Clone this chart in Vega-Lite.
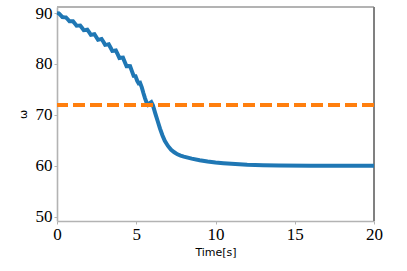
{
  "$schema": "https://vega.github.io/schema/vega-lite/v6.json",
  "width": 317,
  "height": 214,
  "autosize": {"type": "none"},
  "padding": {"left": 57, "top": 7, "right": 33, "bottom": 50},
  "background": "white",
  "config": {
    "view": {"stroke": null},
    "axis": {
      "grid": false,
      "domainColor": "#b3b3b3",
      "domainWidth": 1.6,
      "tickColor": "#b3b3b3",
      "tickSize": 3,
      "tickWidth": 1,
      "labelFont": "Liberation Serif",
      "labelFontSize": 17,
      "labelColor": "#000000",
      "labelFlush": false,
      "titleFont": "DejaVu Sans",
      "titleFontWeight": "normal",
      "titleFontSize": 11,
      "titleColor": "#000000"
    }
  },
  "data": {
    "values": [
      {"t": 0, "w": 90.0},
      {"t": 0.1125, "w": 89.95},
      {"t": 0.225, "w": 89.6},
      {"t": 0.3375, "w": 89.23},
      {"t": 0.45, "w": 89.19},
      {"t": 0.5625, "w": 89.17},
      {"t": 0.675, "w": 88.79},
      {"t": 0.7875, "w": 88.39},
      {"t": 0.9, "w": 88.38},
      {"t": 1.0125, "w": 88.38},
      {"t": 1.125, "w": 87.96},
      {"t": 1.2375, "w": 87.53},
      {"t": 1.35, "w": 87.54},
      {"t": 1.4625, "w": 87.56},
      {"t": 1.575, "w": 87.11},
      {"t": 1.6875, "w": 86.64},
      {"t": 1.8, "w": 86.68},
      {"t": 1.9125, "w": 86.73},
      {"t": 2.025, "w": 86.25},
      {"t": 2.1375, "w": 85.73},
      {"t": 2.25, "w": 85.78},
      {"t": 2.3625, "w": 85.84},
      {"t": 2.475, "w": 85.3},
      {"t": 2.5875, "w": 84.76},
      {"t": 2.7, "w": 84.83},
      {"t": 2.8125, "w": 84.92},
      {"t": 2.925, "w": 84.36},
      {"t": 3.0375, "w": 83.76},
      {"t": 3.15, "w": 83.81},
      {"t": 3.2625, "w": 83.88},
      {"t": 3.375, "w": 83.23},
      {"t": 3.4875, "w": 82.56},
      {"t": 3.6, "w": 82.6},
      {"t": 3.7125, "w": 82.65},
      {"t": 3.825, "w": 81.93},
      {"t": 3.9375, "w": 81.18},
      {"t": 4.05, "w": 81.22},
      {"t": 4.1625, "w": 81.25},
      {"t": 4.275, "w": 80.41},
      {"t": 4.3875, "w": 79.57},
      {"t": 4.5, "w": 79.6},
      {"t": 4.6125, "w": 79.57},
      {"t": 4.725, "w": 78.61},
      {"t": 4.8375, "w": 77.66},
      {"t": 4.95, "w": 77.62},
      {"t": 5.06, "w": 76.7},
      {"t": 5.15, "w": 76.2},
      {"t": 5.24, "w": 76.3},
      {"t": 5.35, "w": 75.4},
      {"t": 5.45, "w": 74.3},
      {"t": 5.55, "w": 73.3},
      {"t": 5.65, "w": 72.4},
      {"t": 5.74, "w": 72.0},
      {"t": 5.85, "w": 72.3},
      {"t": 5.95, "w": 72.5},
      {"t": 6.05, "w": 71.9},
      {"t": 6.2, "w": 70.3},
      {"t": 6.35, "w": 68.8},
      {"t": 6.5, "w": 67.3},
      {"t": 6.65, "w": 66.0},
      {"t": 6.8, "w": 64.9},
      {"t": 7.0, "w": 63.9},
      {"t": 7.2, "w": 63.15},
      {"t": 7.4, "w": 62.65},
      {"t": 7.6, "w": 62.25},
      {"t": 7.8, "w": 62.0},
      {"t": 8.0, "w": 61.8},
      {"t": 8.5, "w": 61.4},
      {"t": 9.0, "w": 61.1},
      {"t": 9.5, "w": 60.85},
      {"t": 10.0, "w": 60.65},
      {"t": 10.5, "w": 60.5},
      {"t": 11.0, "w": 60.38},
      {"t": 12.0, "w": 60.2},
      {"t": 13.0, "w": 60.1},
      {"t": 14.0, "w": 60.05},
      {"t": 16.0, "w": 60.02},
      {"t": 18.0, "w": 60.0},
      {"t": 20.0, "w": 60.0}
    ]
  },
  "layer": [
    {
      "mark": {"type": "rule", "color": "#b3b3b3", "strokeWidth": 1.6},
      "encoding": {"y": {"datum": 91.2, "type": "quantitative"}}
    },
    {
      "mark": {"type": "rule", "color": "#808080", "strokeWidth": 1},
      "encoding": {"x": {"datum": 20, "type": "quantitative"}}
    },
    {
      "mark": {"type": "line", "color": "#1f77b4", "strokeWidth": 4, "interpolate": "linear"},
      "encoding": {
        "x": {
          "field": "t",
          "type": "quantitative",
          "scale": {"domain": [0, 20], "nice": false, "zero": false},
          "axis": {"values": [0, 5, 10, 15, 20], "title": "Time[s]", "labelPadding": 2, "titlePadding": 4, "labelFlush": false}
        },
        "y": {
          "field": "w",
          "type": "quantitative",
          "scale": {"domain": [49.15, 91.2], "nice": false, "zero": false},
          "axis": {"values": [50, 60, 70, 80, 90], "title": "ω", "labelPadding": 2, "titlePadding": 7}
        }
      }
    },
    {
      "mark": {"type": "rule", "color": "#ff7f0e", "strokeWidth": 3.5, "strokeDash": [12, 5]},
      "encoding": {"y": {"datum": 72, "type": "quantitative"}}
    }
  ]
}
